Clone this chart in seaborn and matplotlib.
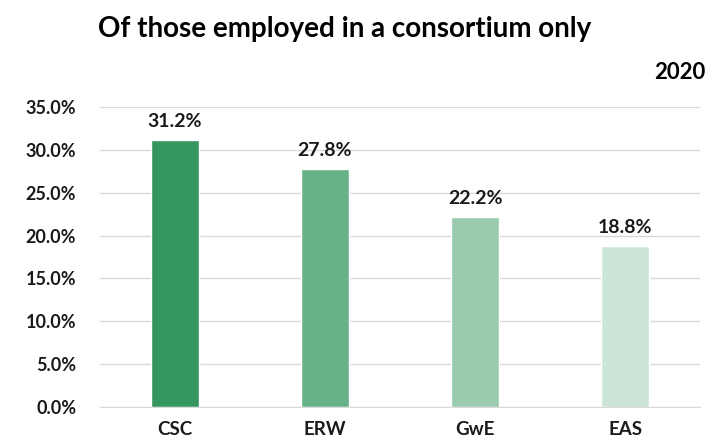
import matplotlib
matplotlib.use("Agg")
import matplotlib.pyplot as plt
import seaborn as sns
import pandas as pd

# Datos
regions = ["CSC", "ERW", "GwE", "EAS"]
shares = [31.2, 27.8, 22.2, 18.8]
bar_colors = ["#359660", "#67b387", "#9acbae", "#cde5d7"]

sns.set_style("white")
plt.rcParams['font.family'] = ['Lato', 'DejaVu Sans']

df = pd.DataFrame({"region": regions, "share": shares})

fig = plt.figure(figsize=(7.08, 4.45), dpi=100)
ax = fig.add_axes([0.141, 0.0854, 0.848, 0.6742])

sns.barplot(data=df, x="region", y="share", hue="region", palette=bar_colors,
            legend=False, width=0.32, ax=ax, saturation=1)

ax.set_ylim(0, 35)
ax.set_yticks([0, 5, 10, 15, 20, 25, 30, 35])
ax.set_yticklabels([f"{v:.1f}%" for v in ax.get_yticks()])
ax.yaxis.grid(True, color="#d9d9d9", linewidth=1)
ax.set_axisbelow(True)
for s in ["left", "right", "top"]:
    ax.spines[s].set_visible(False)
ax.spines["bottom"].set_color("#d9d9d9")
ax.tick_params(axis="y", length=0, labelsize=13, pad=17)
ax.tick_params(axis="x", length=0, labelsize=13.5, pad=10)
for lab in ax.get_xticklabels() + ax.get_yticklabels():
    lab.set_fontweight("bold")
    lab.set_color("#1a1a1a")
ax.set_xlabel("")
ax.set_ylabel("")

# Etiquetas de valores
for p, v in zip(ax.patches, shares):
    ax.annotate(f"{v:.1f}%", (p.get_x() + p.get_width() / 2, p.get_height()),
                xytext=(0, 7), textcoords="offset points", ha="center", va="bottom",
                fontsize=14, fontweight="bold", color="#1a1a1a")

fig.text(0.487, 0.935, "Of those employed in a consortium only", ha="center", va="center",
         fontsize=20, fontweight="bold", color="black")
fig.text(0.996, 0.836, "2020", ha="right", va="center", fontsize=16, fontweight="bold",
         color="black")

fig.savefig("out.png", dpi=100)
